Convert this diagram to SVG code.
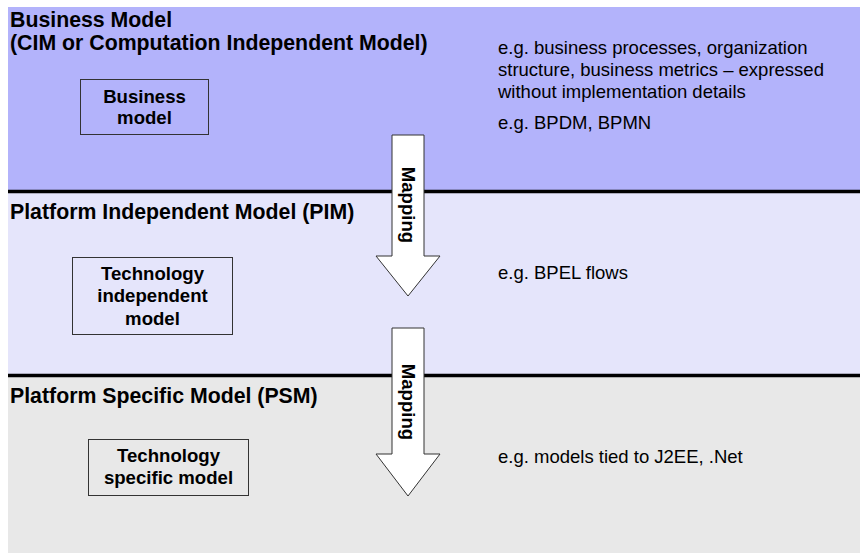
<svg xmlns="http://www.w3.org/2000/svg" width="860" height="555" viewBox="0 0 860 555">
<style>
text{font-family:"Liberation Sans",Arial,sans-serif;fill:#000}
.h{font-size:21.3px;font-weight:bold}
.n{font-size:18.6px;font-weight:bold;text-anchor:middle}
.d{font-size:18.5px}
.box{fill:none;stroke:#333;stroke-width:1}
.sep{stroke:#000;stroke-width:3.5}
.arr{fill:#fff;stroke:#333;stroke-width:1}
</style>
<rect width="860" height="555" fill="#fff"/>
<g id="bands">
<rect x="8" y="7" width="852" height="185" fill="#b3b3fb"/>
<rect x="8" y="192" width="852" height="184" fill="#e5e5fb"/>
<rect x="8" y="376" width="852" height="177" fill="#e8e8e8"/>
<line class="sep" x1="8" y1="191.5" x2="860" y2="191.5"/>
<line class="sep" x1="8" y1="375.5" x2="860" y2="375.5"/>
</g>
<g id="titles">
<text class="h" x="10" y="27">Business Model</text>
<text class="h" x="10" y="50">(CIM or Computation Independent Model)</text>
<text class="h" x="10" y="219">Platform Independent Model (PIM)</text>
<text class="h" x="10" y="403">Platform Specific Model (PSM)</text>
</g>
<g id="notes">
<text class="d" x="498" y="54">e.g. business processes, organization</text>
<text class="d" x="498" y="76">structure, business metrics – expressed</text>
<text class="d" x="498" y="98">without implementation details</text>
<text class="d" x="498" y="129">e.g. BPDM, BPMN</text>
<text class="d" x="498" y="279">e.g. BPEL flows</text>
<text class="d" x="498" y="463">e.g. models tied to J2EE, .Net</text>
</g>
<g id="business-model">
<rect class="box" x="80.5" y="79.5" width="128" height="55"/>
<text class="n" x="144.5" y="103">Business</text>
<text class="n" x="144.5" y="124">model</text>
</g>
<g id="technology-independent-model">
<rect class="box" x="72.5" y="257.5" width="160" height="77"/>
<text class="n" x="152.5" y="280">Technology</text>
<text class="n" x="152.5" y="302">independent</text>
<text class="n" x="152.5" y="325">model</text>
</g>
<g id="technology-specific-model">
<rect class="box" x="88.5" y="439.5" width="160" height="56"/>
<text class="n" x="168.5" y="462">Technology</text>
<text class="n" x="168.5" y="484">specific model</text>
</g>
<g id="connectors">
<g id="mapping-1">
<polygon class="arr" points="392,135 424,135 424,256 440,256 408,296 376,256 392,256"/>
<text class="n" transform="translate(402,205) rotate(90)">Mapping</text>
</g>
<g id="mapping-2">
<polygon class="arr" points="392,328 424,328 424,454 440,454 408,496 376,454 392,454"/>
<text class="n" transform="translate(402,402) rotate(90)">Mapping</text>
</g>
</g>
</svg>
